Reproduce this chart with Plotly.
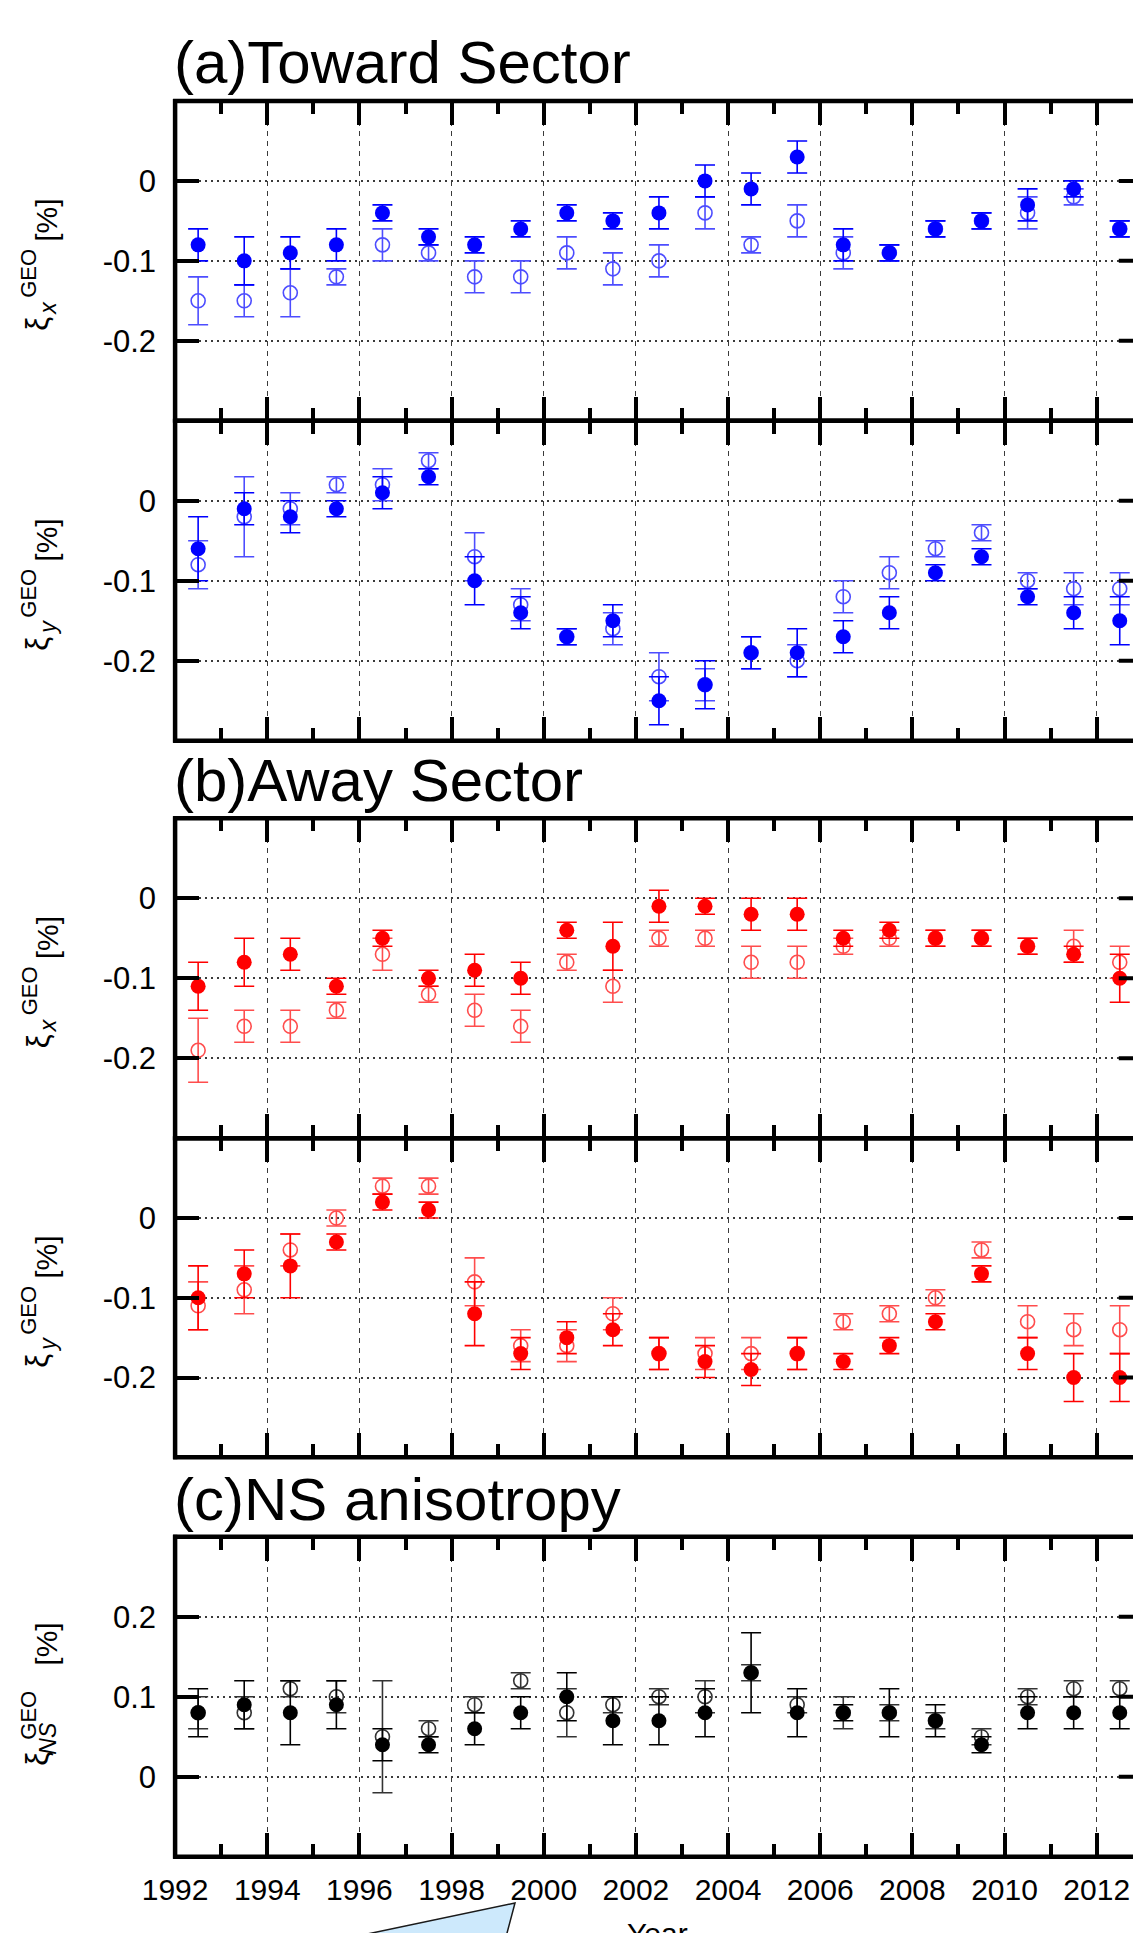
import plotly.graph_objects as go

# ---------------- data ----------------
years = [1992.5 + i for i in range(21)]

toward_x_filled = [-0.08, -0.10, -0.09, -0.08, -0.04, -0.07, -0.08, -0.06, -0.04, -0.05, -0.04,
                   0.00, -0.01, 0.03, -0.08, -0.09, -0.06, -0.05, -0.03, -0.01, -0.06]
toward_x_filled_err = [0.02, 0.03, 0.02, 0.02, 0.01, 0.01, 0.01, 0.01, 0.01, 0.01, 0.02,
                       0.02, 0.02, 0.02, 0.02, 0.01, 0.01, 0.01, 0.02, 0.01, 0.01]
toward_x_open = [-0.15, -0.15, -0.14, -0.12, -0.08, -0.09, -0.12, -0.12, -0.09, -0.11, -0.10,
                 -0.04, -0.08, -0.05, -0.09, -0.09, -0.06, -0.05, -0.04, -0.02, -0.06]
toward_x_open_err = [0.03, 0.02, 0.03, 0.01, 0.02, 0.01, 0.02, 0.02, 0.02, 0.02, 0.02,
                     0.02, 0.01, 0.02, 0.02, 0.01, 0.01, 0.01, 0.02, 0.01, 0.01]

toward_y_filled = [-0.06, -0.01, -0.02, -0.01, 0.01, 0.03, -0.10, -0.14, -0.17, -0.15, -0.25,
                   -0.23, -0.19, -0.19, -0.17, -0.14, -0.09, -0.07, -0.12, -0.14, -0.15]
toward_y_filled_err = [0.04, 0.02, 0.02, 0.01, 0.02, 0.01, 0.03, 0.02, 0.01, 0.02, 0.03,
                       0.03, 0.02, 0.03, 0.02, 0.02, 0.01, 0.01, 0.01, 0.02, 0.03]
toward_y_open = [-0.08, -0.02, -0.01, 0.02, 0.02, 0.05, -0.07, -0.13, -0.17, -0.16, -0.22,
                 -0.23, -0.19, -0.20, -0.12, -0.09, -0.06, -0.04, -0.10, -0.11, -0.11]
toward_y_open_err = [0.03, 0.05, 0.02, 0.01, 0.02, 0.01, 0.03, 0.02, 0.01, 0.02, 0.03,
                     0.02, 0.02, 0.02, 0.02, 0.02, 0.01, 0.01, 0.01, 0.02, 0.02]

away_x_filled = [-0.11, -0.08, -0.07, -0.11, -0.05, -0.10, -0.09, -0.10, -0.04, -0.06, -0.01,
                 -0.01, -0.02, -0.02, -0.05, -0.04, -0.05, -0.05, -0.06, -0.07, -0.10]
away_x_filled_err = [0.03, 0.03, 0.02, 0.01, 0.01, 0.01, 0.02, 0.02, 0.01, 0.03, 0.02,
                     0.01, 0.02, 0.02, 0.01, 0.01, 0.01, 0.01, 0.01, 0.01, 0.03]
away_x_open = [-0.19, -0.16, -0.16, -0.14, -0.07, -0.12, -0.14, -0.16, -0.08, -0.11, -0.05,
               -0.05, -0.08, -0.08, -0.06, -0.05, -0.05, -0.05, -0.06, -0.06, -0.08]
away_x_open_err = [0.04, 0.02, 0.02, 0.01, 0.02, 0.01, 0.02, 0.02, 0.01, 0.02, 0.01,
                   0.01, 0.02, 0.02, 0.01, 0.01, 0.01, 0.01, 0.01, 0.02, 0.02]

away_y_filled = [-0.10, -0.07, -0.06, -0.03, 0.02, 0.01, -0.12, -0.17, -0.15, -0.14, -0.17,
                 -0.18, -0.19, -0.17, -0.18, -0.16, -0.13, -0.07, -0.17, -0.20, -0.20]
away_y_filled_err = [0.04, 0.03, 0.04, 0.01, 0.01, 0.01, 0.04, 0.02, 0.02, 0.02, 0.02,
                     0.02, 0.02, 0.02, 0.01, 0.01, 0.01, 0.01, 0.02, 0.03, 0.03]
away_y_open = [-0.11, -0.09, -0.04, 0.00, 0.04, 0.04, -0.08, -0.16, -0.16, -0.12, -0.17,
               -0.17, -0.17, -0.17, -0.13, -0.12, -0.10, -0.04, -0.13, -0.14, -0.14]
away_y_open_err = [0.03, 0.03, 0.02, 0.01, 0.01, 0.01, 0.03, 0.02, 0.02, 0.02, 0.02,
                   0.02, 0.02, 0.02, 0.01, 0.01, 0.01, 0.01, 0.02, 0.02, 0.03]

ns_filled = [0.08, 0.09, 0.08, 0.09, 0.04, 0.04, 0.06, 0.08, 0.10, 0.07, 0.07,
             0.08, 0.13, 0.08, 0.08, 0.08, 0.07, 0.04, 0.08, 0.08, 0.08]
ns_filled_err = [0.03, 0.03, 0.04, 0.03, 0.02, 0.01, 0.02, 0.02, 0.03, 0.03, 0.03,
                 0.03, 0.05, 0.03, 0.01, 0.03, 0.02, 0.01, 0.02, 0.02, 0.02]
ns_open = [0.08, 0.08, 0.11, 0.10, 0.05, 0.06, 0.09, 0.12, 0.08, 0.09, 0.10,
           0.10, 0.13, 0.09, 0.08, 0.08, 0.07, 0.05, 0.10, 0.11, 0.11]
ns_open_err = [0.02, 0.02, 0.01, 0.02, 0.07, 0.01, 0.01, 0.01, 0.03, 0.01, 0.01,
               0.02, 0.01, 0.01, 0.02, 0.01, 0.01, 0.01, 0.01, 0.01, 0.01]

sector_titles = ["(a)Toward Sector", "(b)Away Sector", "(c)NS anisotropy"]
# y-axis label pieces: symbol, subscript, superscript, unit
y_symbol = "ξ"
y_subscripts = ["x", "y", "x", "y", "NS"]
y_superscript = "GEO"
y_unit = "[%]"
ytick_vals_xy = [-0.2, -0.1, 0.0]
ytick_text_xy = ["-0.2", "-0.1", "0"]
ytick_vals_ns = [0.0, 0.1, 0.2]
ytick_text_ns = ["0", "0.1", "0.2"]
x_axis_title = "Year"

# ---------------- layout geometry (pixels) ----------------
W, H = 1133, 1933
FONT = "Liberation Sans, Arial, Helvetica, sans-serif"
LEFT = 175.1
PX_PER_YEAR = 46.08
X0 = 1992
XMAX = X0 + (W - LEFT) / PX_PER_YEAR
RIGHT_BORDER = LEFT + 21 * PX_PER_YEAR
GRID_COLOR = "#3a3a3a"


def px(x):
    return x / W


def py(y):
    return 1 - y / H


panels = [
    dict(top=101.0, bot=420.7, f=toward_x_filled, fe=toward_x_filled_err, o=toward_x_open,
         oe=toward_x_open_err, fc="#0000ff", oc="#4d4dff", rng=[-0.3, 0.1],
         tv=ytick_vals_xy, tt=ytick_text_xy),
    dict(top=420.7, bot=740.7, f=toward_y_filled, fe=toward_y_filled_err, o=toward_y_open,
         oe=toward_y_open_err, fc="#0000ff", oc="#4d4dff", rng=[-0.3, 0.1],
         tv=ytick_vals_xy, tt=ytick_text_xy),
    dict(top=818.3, bot=1138.3, f=away_x_filled, fe=away_x_filled_err, o=away_x_open,
         oe=away_x_open_err, fc="#ff0000", oc="#ff4d4d", rng=[-0.3, 0.1],
         tv=ytick_vals_xy, tt=ytick_text_xy),
    dict(top=1138.3, bot=1457.3, f=away_y_filled, fe=away_y_filled_err, o=away_y_open,
         oe=away_y_open_err, fc="#ff0000", oc="#ff4d4d", rng=[-0.3, 0.1],
         tv=ytick_vals_xy, tt=ytick_text_xy),
    dict(top=1536.7, bot=1856.7, f=ns_filled, fe=ns_filled_err, o=ns_open,
         oe=ns_open_err, fc="#000000", oc="#333333", rng=[-0.1, 0.3],
         tv=ytick_vals_ns, tt=ytick_text_ns),
]

# offsets (px) of the y-label pieces from the panel centre: (x centre, dy centre)
label_layout_xy = dict(sym=(38, 63), sub=(48, 47), sup=(29, 13), unit=(47, -40))
label_layout_ns = dict(sym=(38, 62), sub=(48, 42), sup=(29, 19), unit=(47, -52))

fig = go.Figure()
shapes = []
annotations = []
layout = dict(
    width=W, height=H, margin=dict(l=0, r=0, t=0, b=0, autoexpand=False),
    paper_bgcolor="white", plot_bgcolor="white", showlegend=False,
    font=dict(family=FONT, color="black"),
)

for i, p in enumerate(panels, start=1):
    xa, ya = f"x{i}", f"y{i}"
    # open symbols first, filled drawn on top
    fig.add_trace(go.Scatter(
        x=years, y=p["o"], mode="markers", xaxis=xa, yaxis=ya,
        marker=dict(symbol="circle-open", size=14, color=p["oc"], line=dict(width=1.6, color=p["oc"])),
        error_y=dict(type="data", array=p["oe"], visible=True, color=p["oc"], thickness=1.6, width=10),
        cliponaxis=False,
    ))
    fig.add_trace(go.Scatter(
        x=years, y=p["f"], mode="markers", xaxis=xa, yaxis=ya,
        marker=dict(symbol="circle", size=15, color=p["fc"]),
        error_y=dict(type="data", array=p["fe"], visible=True, color=p["fc"], thickness=1.6, width=10),
        cliponaxis=False,
    ))
    sfx = "" if i == 1 else str(i)
    layout["xaxis" + sfx] = dict(
        domain=[px(LEFT), 1], range=[X0, XMAX], anchor=ya, automargin=False,
        tickmode="linear", tick0=1992, dtick=2,
        ticks="inside", ticklen=24, tickwidth=3.5, tickcolor="black",
        mirror="allticks", showline=False, zeroline=False,
        showgrid=True, gridcolor=GRID_COLOR, gridwidth=1.3, griddash="5px,5px",
        showticklabels=(i == 5), tickfont=dict(size=30, family=FONT, color="black"),
        ticklabelstandoff=12,
        minor=dict(tick0=1992, dtick=1, ticks="inside", ticklen=13, tickwidth=3.5,
                   tickcolor="black", showgrid=False),
    )
    layout["yaxis" + sfx] = dict(
        domain=[py(p["bot"]), py(p["top"])], range=p["rng"], anchor=xa, automargin=False,
        tickmode="array", tickvals=p["tv"], ticktext=p["tt"],
        ticks="inside", ticklen=24, tickwidth=4, tickcolor="black",
        showline=False, zeroline=False,
        showgrid=True, gridcolor=GRID_COLOR, gridwidth=1.5, griddash="2px,4px",
        tickfont=dict(size=31, family=FONT, color="black"), ticklabelstandoff=18,
    )
    # plot frame
    for yy in (p["top"], p["bot"]):
        shapes.append(dict(type="line", xref="paper", yref="paper", x0=px(LEFT - 2), x1=1.0,
                           y0=py(yy), y1=py(yy), line=dict(color="black", width=4.5), layer="above"))
    shapes.append(dict(type="line", xref="paper", yref="paper", x0=px(LEFT), x1=px(LEFT),
                       y0=py(p["bot"] + 2), y1=py(p["top"] - 2),
                       line=dict(color="black", width=4.5), layer="above"))
    # right-side tick stubs (the right frame itself is just outside the picture)
    for tv in p["tv"]:
        shapes.append(dict(type="line", xref="paper", yref=ya, x0=px(RIGHT_BORDER - 24), x1=1.0,
                           y0=tv, y1=tv, line=dict(color="black", width=4), layer="above"))
    # y-axis label, built from pieces (rotated)
    yc = (p["top"] + p["bot"]) / 2
    lay = label_layout_ns if i == 5 else label_layout_xy
    pieces = [
        (y_symbol, lay["sym"], 31, False),
        (y_subscripts[i - 1], lay["sub"], 23, True),
        (y_superscript, lay["sup"], 22, False),
        (y_unit, lay["unit"], 30, False),
    ]
    for txt, (dx, dy), size, ital in pieces:
        annotations.append(dict(
            text=f"<i>{txt}</i>" if ital else txt, xref="paper", yref="paper",
            x=px(dx), y=py(yc + dy), xanchor="center", yanchor="middle",
            textangle=-90, showarrow=False, borderpad=0,
            font=dict(size=size, family=FONT, color="black"),
        ))

# panel headings
for title, base in zip(sector_titles, [85, 803, 1522]):
    annotations.append(dict(
        text=title, xref="paper", yref="paper", x=px(172), y=py(base + 13),
        xanchor="left", yanchor="bottom", showarrow=False,
        font=dict(size=60, family=FONT, color="black"),
    ))

# x axis title (cut by the lower edge of the picture)
annotations.append(dict(
    text=x_axis_title, xref="paper", yref="paper", x=px(657), y=py(1915),
    xanchor="center", yanchor="top", showarrow=False,
    font=dict(size=30, family=FONT, color="black"),
))

# light-blue callout tail at the bottom
tri = [(515, 1903), (291, 1950), (502.5, 1950)]
path = "M {} {} L {} {} L {} {} Z".format(*[v for xpx, ypx in tri for v in (px(xpx), py(ypx))])
shapes.append(dict(type="path", xref="paper", yref="paper", path=path,
                   fillcolor="#cde9fc", line=dict(color="#1a1a1a", width=1.5), layer="above"))

layout["shapes"] = shapes
layout["annotations"] = annotations
fig.update_layout(**layout)
fig.write_html("out.html")
